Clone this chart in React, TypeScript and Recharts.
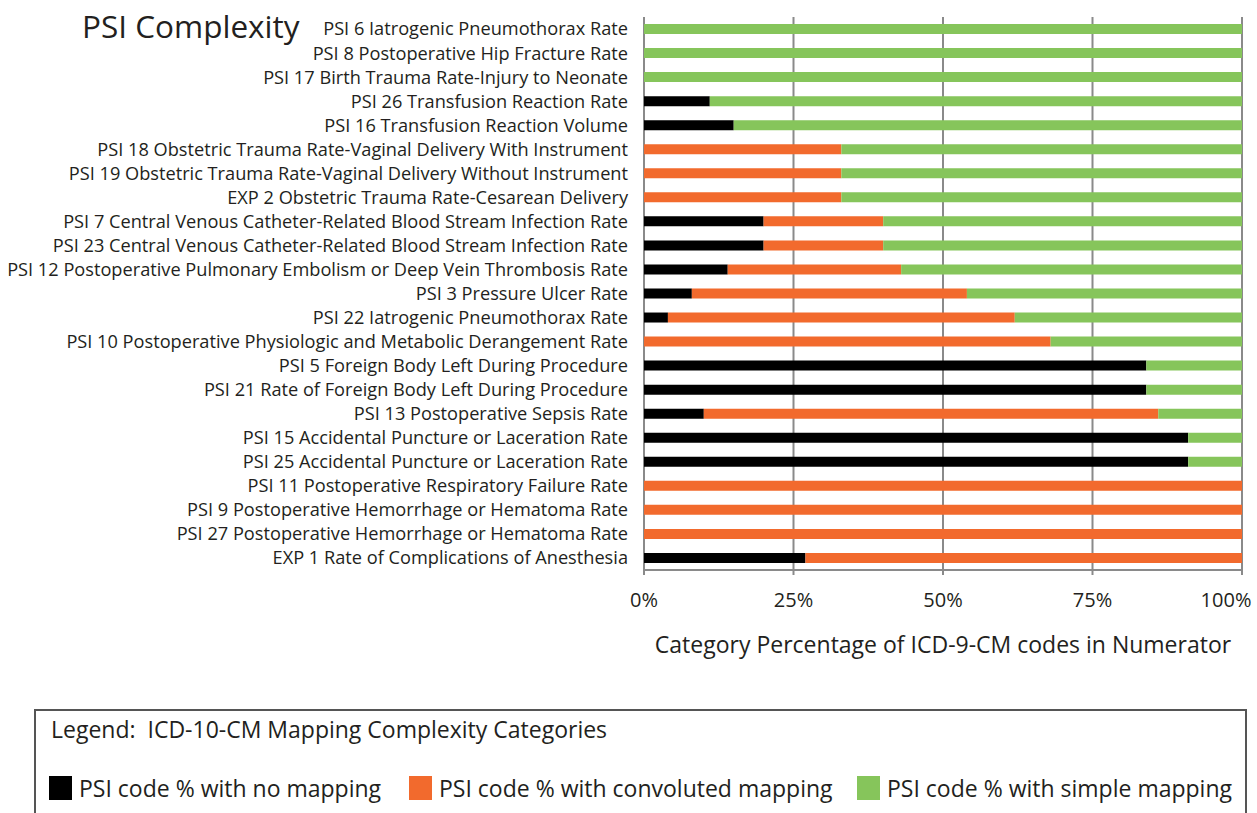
import { BarChart, Bar, XAxis, YAxis, CartesianGrid, Legend } from 'recharts';

const categories = [
  'PSI 6 Iatrogenic Pneumothorax Rate',
  'PSI 8 Postoperative Hip Fracture Rate',
  'PSI 17 Birth Trauma Rate-Injury to Neonate',
  'PSI 26 Transfusion Reaction Rate',
  'PSI 16 Transfusion Reaction Volume',
  'PSI 18 Obstetric Trauma Rate-Vaginal Delivery With Instrument',
  'PSI 19 Obstetric Trauma Rate-Vaginal Delivery Without Instrument',
  'EXP 2 Obstetric Trauma Rate-Cesarean Delivery',
  'PSI 7 Central Venous Catheter-Related Blood Stream Infection Rate',
  'PSI 23 Central Venous Catheter-Related Blood Stream Infection Rate',
  'PSI 12 Postoperative Pulmonary Embolism or Deep Vein Thrombosis Rate',
  'PSI 3 Pressure Ulcer Rate',
  'PSI 22 Iatrogenic Pneumothorax Rate',
  'PSI 10 Postoperative Physiologic and Metabolic Derangement Rate',
  'PSI 5 Foreign Body Left During Procedure',
  'PSI 21 Rate of Foreign Body Left During Procedure',
  'PSI 13 Postoperative Sepsis Rate',
  'PSI 15 Accidental Puncture or Laceration Rate',
  'PSI 25 Accidental Puncture or Laceration Rate',
  'PSI 11 Postoperative Respiratory Failure Rate',
  'PSI 9 Postoperative Hemorrhage or Hematoma Rate',
  'PSI 27 Postoperative Hemorrhage or Hematoma Rate',
  'EXP 1 Rate of Complications of Anesthesia',
];

// % of ICD-9-CM codes per mapping category
const noMapping = [0, 0, 0, 11, 15, 0, 0, 0, 20, 20, 14, 8, 4, 0, 84, 84, 10, 91, 91, 0, 0, 0, 27];
const convoluted = [0, 0, 0, 0, 0, 33, 33, 33, 20, 20, 29, 46, 58, 68, 0, 0, 76, 0, 0, 100, 100, 100, 73];
const simple = [100, 100, 100, 89, 85, 67, 67, 67, 60, 60, 57, 46, 38, 32, 16, 16, 14, 9, 9, 0, 0, 0, 0];

const xTicks = [0, 25, 50, 75, 100];

const seriesNames = [
  'PSI code % with no mapping',
  'PSI code % with convoluted mapping',
  'PSI code % with simple mapping',
];

const data = categories.map((name, i) => ({
  name,
  none: noMapping[i],
  convoluted: convoluted[i],
  simple: simple[i],
}));

const textColor = '#231f20';
const gridColor = '#8a8a8a';

function XTick(props: any) {
  const { x, y, payload } = props;
  const shift = payload.value === 100 ? -16 : 0;
  return (
    <text x={x + shift} y={y} dy="0.71em" textAnchor="middle" fill={textColor} fontSize={20}>
      {payload.value}%
    </text>
  );
}

function LegendBox(props: any) {
  const items = [...(props.payload || [])].sort(
    (a: any, b: any) => seriesNames.indexOf(a.value) - seriesNames.indexOf(b.value)
  );
  const widths = [360, 448, 380];
  return (
    <div
      style={{
        width: 1213,
        height: 130,
        boxSizing: 'border-box',
        border: '2px solid #555',
        background: '#fff',
        color: textColor,
        whiteSpace: 'nowrap',
      }}
    >
      <div style={{ fontSize: 23, lineHeight: '23px', padding: '7px 0 0 15px' }}>
        Legend:&nbsp; ICD-10-CM Mapping Complexity Categories
      </div>
      <div style={{ display: 'flex', marginTop: 35, paddingLeft: 13 }}>
        {items.map((entry: any, i: number) => (
          <div key={entry.value} style={{ display: 'flex', alignItems: 'center', width: widths[i], flex: 'none' }}>
            <span style={{ display: 'inline-block', width: 23, height: 24, background: entry.color, marginRight: 7 }} />
            <span style={{ fontSize: 23, lineHeight: '24px' }}>{entry.value}</span>
          </div>
        ))}
      </div>
    </div>
  );
}

export default function App() {
  return (
    <div style={{ position: 'absolute', left: 0, top: 0, width: 1257, height: 813, overflow: 'hidden', background: '#fff', fontFamily: '"Open Sans", sans-serif' }}>
      <div style={{ position: 'absolute', left: 82, top: 10, fontSize: 31.5, lineHeight: '31px', color: textColor }}>
        PSI Complexity
      </div>
      <BarChart
        width={1257}
        height={813}
        data={data}
        layout="vertical"
        margin={{ top: 17, right: 15, left: 0, bottom: 153 }}
        barSize={10}
      >
        <CartesianGrid horizontal={false} stroke={gridColor} strokeWidth={2} />
        <XAxis
          type="number"
          domain={[0, 100]}
          ticks={xTicks}
          height={90}
          stroke={gridColor}
          strokeWidth={2}
          tickSize={5}
          tickMargin={18}
          tick={<XTick />}
          label={{ value: 'Category Percentage of ICD-9-CM codes in Numerator', position: 'insideBottom', offset: 7, fill: textColor, fontSize: 23 }}
        />
        <YAxis
          type="category"
          dataKey="name"
          width={644}
          interval={0}
          tickLine={false}
          axisLine={false}
          tickMargin={10}
          tick={{ fill: textColor, fontSize: 18.2 }}
        />
        <Bar dataKey="none" name={seriesNames[0]} stackId="a" fill="#000000" isAnimationActive={false} />
        <Bar dataKey="convoluted" name={seriesNames[1]} stackId="a" fill="#f26a2d" isAnimationActive={false} />
        <Bar dataKey="simple" name={seriesNames[2]} stackId="a" fill="#86c55b" isAnimationActive={false} />
        <Legend
          layout="horizontal"
          verticalAlign="middle"
          align="center"
          wrapperStyle={{ left: 34, top: 709, width: 1213 }}
          content={<LegendBox />}
        />
      </BarChart>
    </div>
  );
}
